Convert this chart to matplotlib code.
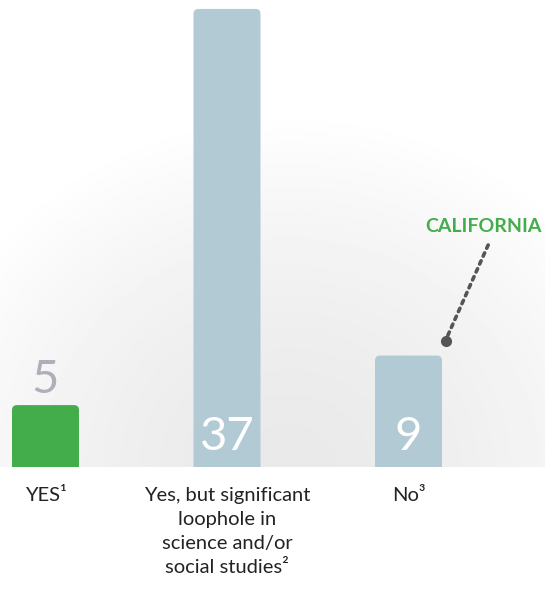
import numpy as np
import matplotlib.pyplot as plt
from matplotlib.patches import FancyBboxPatch

# données
categories = ['YES\u00b9', 'Yes, but significant\nloophole in\nscience and/or\nsocial studies\u00b2', 'No\u00b3']
values = [5, 37, 9]
bar_colors = ['#43ad4b', '#b2cad4', '#b2cad4']
label_inside = [False, True, True]

W, H = 545, 592
fig = plt.figure(figsize=(W / 100, H / 100), dpi=100)
plt.rcParams['font.family'] = ['Lato', 'DejaVu Sans']

base_px = 467
ax = fig.add_axes([0, (H - base_px) / H, 1, base_px / H])
px_x = 181.5
px_y = 12.38
ax.set_xlim(-45.5 / px_x, (W - 45.5) / px_x)
ax.set_ylim(0, base_px / px_y)
ax.axis('off')

# fond dégradé radial
gx, gy = np.meshgrid(np.linspace(0, W, 300), np.linspace(0, base_px, 300))
d = np.sqrt(((gx - 290) / 390) ** 2 + ((gy - 470) / 360) ** 2)
shade = 0.915 + 0.085 * np.clip(d, 0, 1) ** 1.6
ax.imshow(shade, cmap='gray', vmin=0, vmax=1, extent=[*ax.get_xlim(), 0, base_px / px_y],
          aspect='auto', zorder=0, origin='upper')

bw = 67 / px_x
r = 5 / px_x
for i, (v, c) in enumerate(zip(values, bar_colors)):
    p = FancyBboxPatch((i - bw / 2, -1), bw, v + 1,
                       boxstyle=f'round,pad=0,rounding_size={r}',
                       mutation_aspect=px_x / px_y, fc=c, ec='none', zorder=2)
    ax.add_patch(p)
    if label_inside[i]:
        ax.text(i, 1.37, str(v), ha='center', va='baseline', color='white',
                fontsize=34, zorder=3)
    else:
        ax.text(i, v + 0.98, str(v), ha='center', va='baseline', color='#b3adb9',
                fontsize=34, zorder=3)

# libellés sous les barres
for i, lab in enumerate(categories):
    ax.text(i, -1.6, lab, ha='center', va='top', fontsize=14.5, color='#222222',
            linespacing=1.5, clip_on=False)

# annotation Californie
dot = (2 + 37 / px_x, values[2] + 15 / px_y)
ax.annotate('CALIFORNIA', xy=dot,
            xytext=(38, 106), textcoords='offset pixels', ha='center', va='bottom',
            fontsize=14, fontweight='bold', color='#43ad4b',
            arrowprops=dict(arrowstyle='-', color='#555555', lw=2.6, linestyle=(0, (1, 1.4)),
                            shrinkA=6, shrinkB=0, relpos=(0.58, 0)))
ax.plot([dot[0]], [dot[1]], 'o', color='#555555', ms=7, zorder=4)

fig.savefig('out.png', dpi=100, facecolor='white')
